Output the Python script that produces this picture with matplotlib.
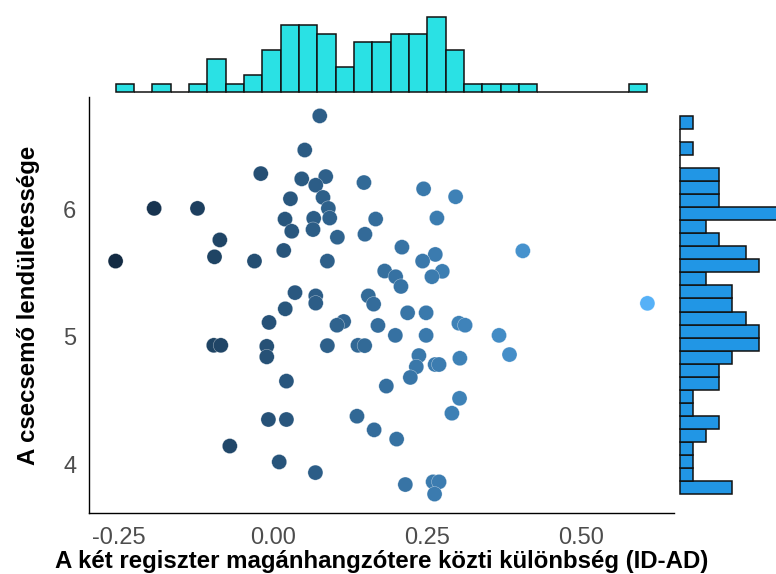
import numpy as np
import matplotlib
matplotlib.use("Agg")
import matplotlib.pyplot as plt
from matplotlib.colors import LinearSegmentedColormap, Normalize

plt.rcParams['font.family'] = ['Liberation Sans', 'DejaVu Sans']

# ---- data ----
x_diff = [0.0757, 0.0514, -0.0199, 0.0465, 0.0854, 0.0692, 0.1474, 0.0282, 0.0810, 0.0897,
          -0.1928, -0.1225, 0.0919, 0.0194, 0.0659, 0.1664, 0.0303, 0.0648, 0.1043, 0.1490,
          -0.0863, 0.0173, -0.2553, -0.0949, -0.0301, 0.0881, 0.1810, 0.0356, 0.0692, 0.0692,
          0.1545, 0.1631, 0.0198, 0.2441, 0.2960, 0.2657, 0.2090, 0.4050, 0.2631, 0.2425,
          0.1988, 0.2074, 0.2744, 0.2576, 0.2182, 0.2482, 0.6070, 0.1701, 0.3013, 0.3114,
          0.1983, 0.2482, 0.3664, 0.1377, 0.1486, 0.3834, 0.2365, 0.2323, 0.2628, 0.2692,
          0.3029, 0.2226, 0.1837, 0.3024, 0.2900, 0.1361, 0.1639, 0.2004, 0.2145, 0.2595,
          0.2692, 0.2619, -0.0065, 0.1145, 0.1037, -0.0961, -0.0847, -0.0102, -0.0102, 0.0881,
          0.0217, -0.0075, 0.0217, -0.0701, 0.0100, 0.0687]
y_lend = [6.7327, 6.4653, 6.2806, 6.2393, 6.2572, 6.1894, 6.2104, 6.0834, 6.0935, 6.0078,
          6.0078, 6.0078, 5.9322, 5.9236, 5.9299, 5.9244, 5.8285, 5.8418, 5.7818, 5.8051,
          5.7607, 5.6781, 5.5947, 5.6282, 5.5947, 5.5947, 5.5168, 5.3476, 5.3219, 5.2650,
          5.3219, 5.2572, 5.2206, 6.1613, 6.0990, 5.9322, 5.7038, 5.6750, 5.6469, 5.5947,
          5.4723, 5.3960, 5.5144, 5.4723, 5.1894, 5.1894, 5.2635, 5.0904, 5.1076, 5.0920,
          5.0125, 5.0125, 5.0125, 4.9345, 4.9322, 4.8621, 4.8543, 4.7662, 4.7841, 4.7841,
          4.8332, 4.6828, 4.6150, 4.5191, 4.4022, 4.3788, 4.2720, 4.1995, 3.8433, 3.8644,
          3.8644, 3.7685, 5.1138, 5.1216, 5.0920, 4.9345, 4.9345, 4.9267, 4.8441, 4.9322,
          4.6539, 4.3531, 4.3531, 4.1450, 4.0203, 3.9369]

x_ticks = [-0.25, 0.0, 0.25, 0.50]
x_tick_labels = ["-0.25", "0.00", "0.25", "0.50"]
y_ticks = [4, 5, 6]
y_tick_labels = ["4", "5", "6"]
x_title = "A két regiszter magánhangzótere közti különbség (ID-AD)"
y_title = "A csecsemő lendületessége"
n_bins = 29

x = np.array(x_diff)
y = np.array(y_lend)

W, H = 776, 574
fig = plt.figure(figsize=(W / 100, H / 100), dpi=100)

def rect(l, t, r, b):
    return [l / W, 1 - b / H, (r - l) / W, (b - t) / H]

ax = fig.add_axes(rect(89, 97, 674, 513))
ax_top = fig.add_axes(rect(89, 8, 674, 92))
ax_right = fig.add_axes(rect(680, 97, 776, 513))

# limits: data range +/- 5%
xr = x.max() - x.min()
yr = y.max() - y.min()
xlim = (x.min() - 0.05 * xr, x.max() + 0.05 * xr)
ylim = (y.min() - 0.05 * yr, y.max() + 0.05 * yr)

cmap = LinearSegmentedColormap.from_list("gg", ["#132B43", "#56B1F7"])
ax.scatter(x, y, c=x, cmap=cmap, norm=Normalize(x.min(), x.max()),
           s=118, edgecolors=(1, 1, 1, 0.6), linewidths=0.35, zorder=3)
ax.set_xlim(xlim)
ax.set_ylim(ylim)
ax.set_xticks(x_ticks, x_tick_labels)
ax.set_yticks(y_ticks, y_tick_labels)
ax.tick_params(length=0, labelsize=17, labelcolor="#4D4D4D")
ax.tick_params(axis="x", pad=10)
ax.tick_params(axis="y", pad=9)
for s in ["top", "right"]:
    ax.spines[s].set_visible(False)
for s in ["left", "bottom"]:
    ax.spines[s].set_color("black")
    ax.spines[s].set_linewidth(1.0)
ax.set_xlabel(x_title, fontsize=17.3, fontweight="bold", labelpad=1)
ax.set_ylabel(y_title, fontsize=17.3, fontweight="bold", labelpad=17)

# marginal histograms
cx, ex = np.histogram(x, bins=n_bins)
cy, ey = np.histogram(y, bins=n_bins)

ax_top.bar(ex[:-1], cx, width=np.diff(ex), align="edge", color="#2AE1E4",
           edgecolor="#111111", linewidth=1.1, clip_on=False)
ax_top.set_xlim(xlim)
ax_top.set_ylim(0, 84 / 8.35)
ax_top.axis("off")

ax_right.barh(ey[:-1], cy, height=np.diff(ey), align="edge", color="#2196E5",
              edgecolor="#111111", linewidth=1.1, clip_on=False)
ax_right.set_ylim(ylim)
ax_right.set_xlim(0, 96 / 13.1)
ax_right.axis("off")

fig.savefig("out.png", dpi=100)
